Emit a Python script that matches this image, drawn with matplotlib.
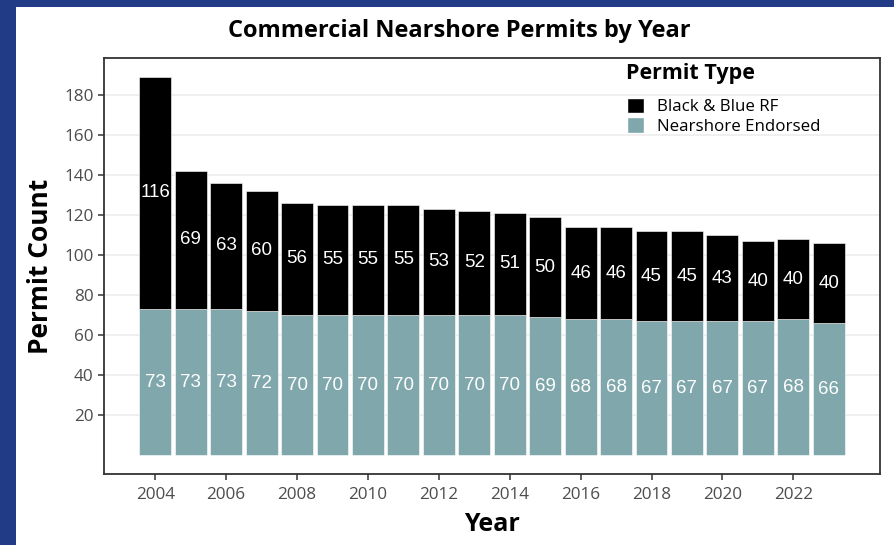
"""
Stacked bar chart of commercial nearshore permits per year,
split into Black & Blue RF and Nearshore Endorsed permits.
"""

import matplotlib
matplotlib.use("Agg")

import matplotlib.pyplot as plt
from matplotlib.patches import Patch, Rectangle


# -----------------------------
# 1. Data
# -----------------------------

YEARS = list(range(2004, 2024))

NEARSHORE_ENDORSED = [73, 73, 73, 72, 70, 70, 70, 70, 70, 70,
                      70, 69, 68, 68, 67, 67, 67, 67, 68, 66]

BLACK_BLUE_RF = [116, 69, 63, 60, 56, 55, 55, 55, 53, 52,
                 51, 50, 46, 46, 45, 45, 43, 40, 40, 40]

Y_TICKS = [20, 40, 60, 80, 100, 120, 140, 160, 180]
X_TICKS = list(range(2004, 2024, 2))

# -----------------------------
# 2. Style settings
# -----------------------------

FRAME_BLUE = "#223B86"
TEAL = "#80A8AC"
BLACK = "#000000"
GRID_GREY = "#EBEBEB"
TICK_GREY = "#4D4D4D"
BORDER_GREY = "#333333"

UI_FONT = ["Open Sans", "DejaVu Sans"]
LABEL_FONT = ["Liberation Sans", "DejaVu Sans"]

FIG_W, FIG_H = 895, 545
DPI = 100


def px(x0, y0, x1, y1):
    """Turn pixel box (top-left origin) into figure fraction rect."""
    return [x0 / FIG_W, 1 - y1 / FIG_H, (x1 - x0) / FIG_W, (y1 - y0) / FIG_H]


def main() -> None:
    plt.rcParams["font.family"] = UI_FONT

    fig = plt.figure(figsize=(FIG_W / DPI, FIG_H / DPI), dpi=DPI)
    fig.patch.set_facecolor(FRAME_BLUE)

    # white card sitting on the blue frame
    fig.patches.append(Rectangle((16 / FIG_W, 0), (894 - 16) / FIG_W, (FIG_H - 7) / FIG_H,
                                 transform=fig.transFigure, facecolor="white",
                                 edgecolor="none", zorder=-5))

    ax = fig.add_axes(px(104, 58, 880, 474))
    ax.set_facecolor("white")

    ax.bar(YEARS, NEARSHORE_ENDORSED, width=0.9, color=TEAL,
           edgecolor="white", linewidth=0.4, zorder=2)
    ax.bar(YEARS, BLACK_BLUE_RF, width=0.9, bottom=NEARSHORE_ENDORSED, color=BLACK,
           edgecolor="white", linewidth=0.4, zorder=2)

    # value labels centred in each segment
    for year, low, high in zip(YEARS, NEARSHORE_ENDORSED, BLACK_BLUE_RF):
        ax.text(year, low / 2, str(low), ha="center", va="center",
                color="white", fontsize=13.5, family=LABEL_FONT, zorder=3)
        ax.text(year, low + high / 2, str(high), ha="center", va="center",
                color="white", fontsize=13.5, family=LABEL_FONT, zorder=3)

    ax.set_xlim(2002.555, 2024.445)
    ax.set_ylim(-9.45, 198.45)
    ax.set_xticks(X_TICKS)
    ax.set_yticks(Y_TICKS)

    ax.grid(axis="y", color=GRID_GREY, linewidth=1.1, zorder=0)
    ax.set_axisbelow(True)

    ax.tick_params(axis="both", colors=BORDER_GREY, labelcolor=TICK_GREY,
                   labelsize=12.3, length=4, width=1.1)
    ax.tick_params(axis="x", pad=5.5)
    for spine in ax.spines.values():
        spine.set_color(BORDER_GREY)
        spine.set_linewidth(1.3)

    ax.set_xlabel("Year", fontsize=18, fontweight="bold", labelpad=6)
    ax.set_ylabel("Permit Count", fontsize=19, fontweight="bold", labelpad=7)

    fig.text(459 / FIG_W, 1 - 31 / FIG_H, "Commercial Nearshore Permits by Year",
             ha="center", va="center", fontsize=17, fontweight="bold")

    # legend: title as plain text, entries via legend()
    fig.text(626 / FIG_W, 1 - 74 / FIG_H, "Permit Type", ha="left", va="center",
             fontsize=15.5, fontweight="bold")
    handles = [Patch(facecolor=BLACK, edgecolor="white", label="Black & Blue RF"),
               Patch(facecolor=TEAL, edgecolor="white", label="Nearshore Endorsed")]
    ax.legend(handles=handles, loc="upper left",
              bbox_to_anchor=(627 / FIG_W, 1 - 98 / FIG_H),
              bbox_transform=fig.transFigure, frameon=False,
              fontsize=12.2, handlelength=1.0, handleheight=1.0,
              handletextpad=0.8, labelspacing=0.12, borderpad=0.0,
              borderaxespad=0.0)

    fig.savefig("out.png", dpi=DPI, facecolor=FRAME_BLUE)


if __name__ == "__main__":
    main()
